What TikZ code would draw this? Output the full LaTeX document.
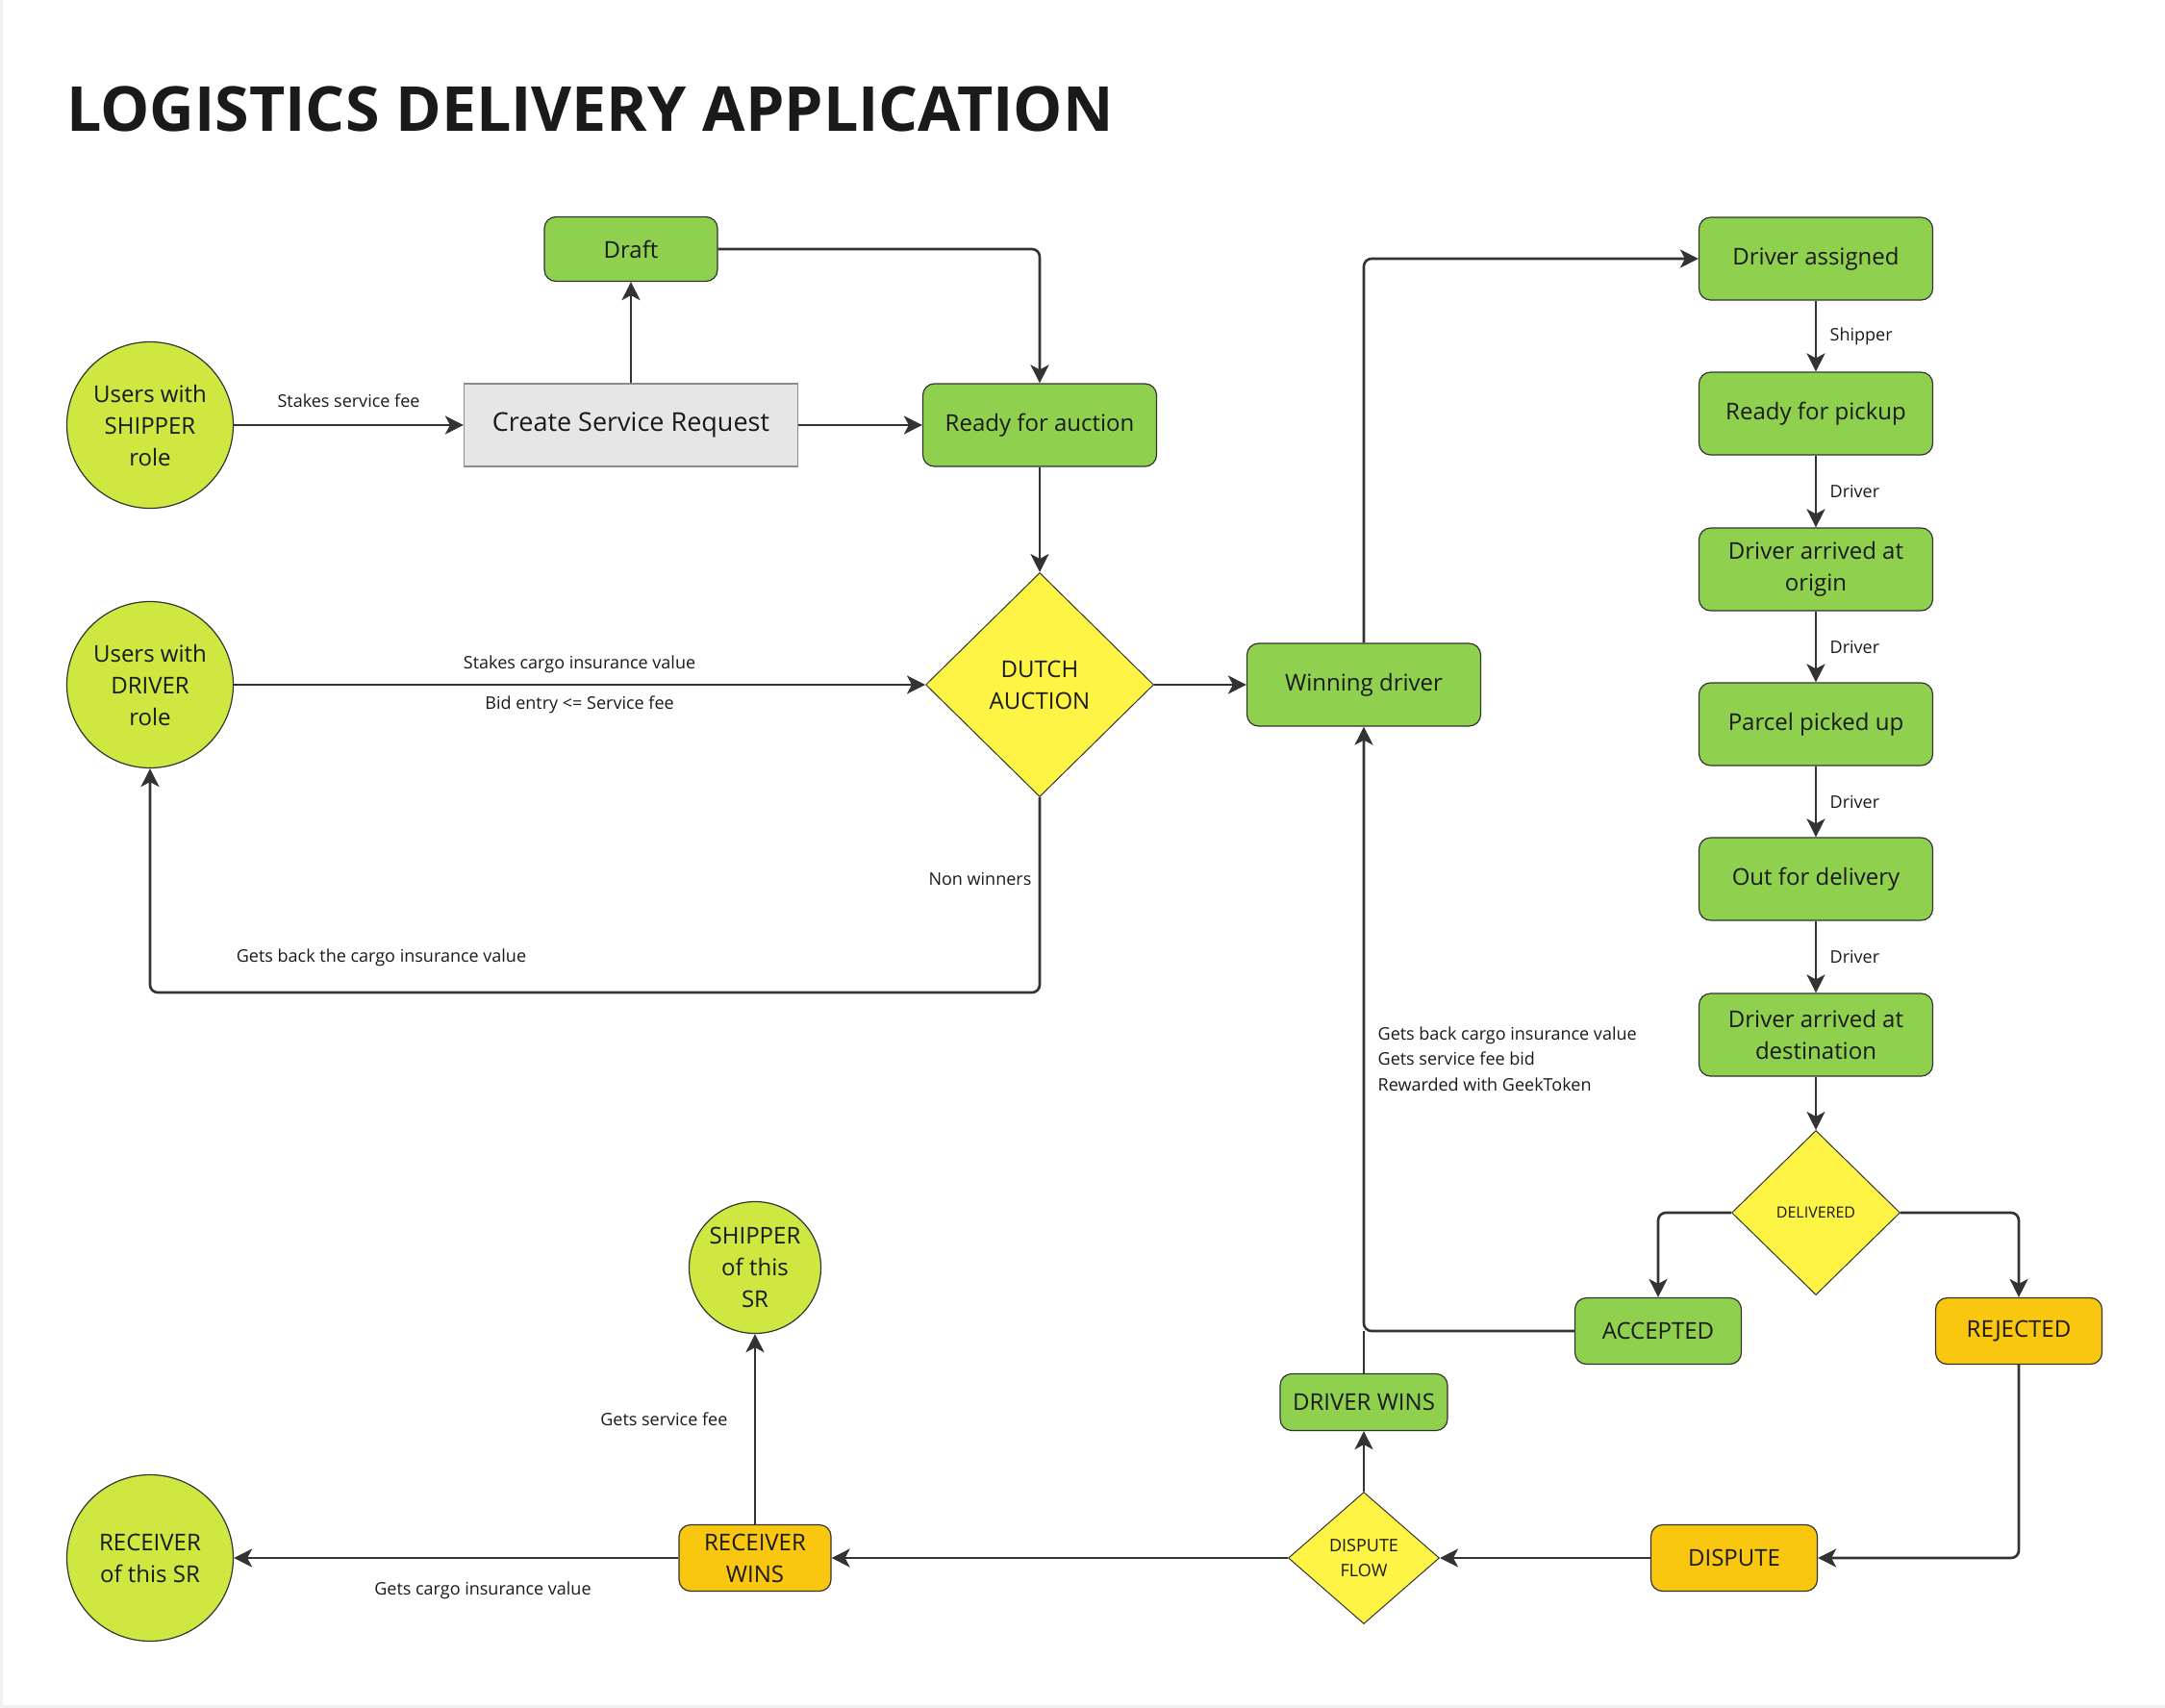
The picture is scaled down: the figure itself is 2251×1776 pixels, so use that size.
\documentclass[tikz,border=0pt]{standalone}
\usepackage{fontspec}
\setmainfont{Open Sans}
\usetikzlibrary{positioning,shapes.geometric,arrows.meta}
\definecolor{stategreen}{HTML}{8FD14F}
\definecolor{rolelime}{HTML}{CEE741}
\definecolor{choiceyellow}{HTML}{FEF445}
\definecolor{warnorange}{HTML}{FAC710}
\definecolor{requestgray}{HTML}{E6E6E6}
\definecolor{linedark}{HTML}{333333}
\definecolor{textdark}{HTML}{1A1A1A}
\definecolor{edgegray}{HTML}{F0F0F0}
\begin{document}
\begin{tikzpicture}
  [
    x = 1pt, y = -1pt,
    every node/.style = {font = \fontsize{24}{33}\selectfont, text = textdark, align = center},
    state/.style = {draw = linedark, fill = stategreen, rectangle, rounded corners = 12pt, line width = 1.2pt, minimum width = 243pt, minimum height = 86pt},
    role/.style = {draw = linedark, fill = rolelime, circle, line width = 1.2pt, inner sep = 0pt},
    choice/.style = {draw = linedark, fill = choiceyellow, diamond, line width = 1pt, inner sep = 0pt},
    note/.style = {font = \fontsize{18}{26.5}\selectfont},
    flow/.style = {-{Stealth[length = 19pt, width = 19pt, inset = 5pt]}, draw = linedark, line width = 2.6pt, rounded corners = 8pt}
  ]
    \fill [edgegray] (0,0) rectangle (2251,1776);
    \fill [white] (3,0) rectangle (2251,1773);
    \useasboundingbox (0,0) rectangle (2251,1776);
    \node (title) [anchor = west, inner sep = 0pt, font = \fontsize{64.5}{70}\bfseries] at (69,113) {LOGISTICS DELIVERY APPLICATION};
    % shipper side
    \node (shipper) [role, minimum size = 173pt] at (156,442) {Users with\\SHIPPER\\role};
    \node (request) [draw = black!45, fill = requestgray, line width = 1.2pt, minimum width = 347pt, minimum height = 86pt, font = \fontsize{27}{33}\selectfont] at (656,442) {Create Service Request};
    \node (draft) [state, minimum width = 180pt, minimum height = 67pt] at (656,259) {Draft};
    \node (ready) [state] at (1081,442) {Ready for auction};
    % auction
    \node (driver) [role, minimum size = 173pt] at (156,712) {Users with\\DRIVER\\role};
    \node (dutch) [choice, minimum width = 237pt, minimum height = 233pt] at (1081,712) {DUTCH\\AUCTION};
    \node (winning) [state] at (1418,712) {Winning driver};
    % delivery steps
    \node (assigned) [state] at (1888,269) {Driver assigned};
    \node (pickup) [state] at (1888,430) {Ready for pickup};
    \node (origin) [state] at (1888,592) {Driver arrived at\\origin};
    \node (picked) [state] at (1888,753) {Parcel picked up};
    \node (outdel) [state] at (1888,914) {Out for delivery};
    \node (dest) [state] at (1888,1076) {Driver arrived at\\destination};
    \node (delivered) [choice, minimum width = 175pt, minimum height = 171pt, font = \fontsize{16}{20}\selectfont] at (1888,1261) {DELIVERED};
    \node (accepted) [state, minimum width = 173pt, minimum height = 69pt] at (1724,1384) {ACCEPTED};
    \node (rejected) [state, fill = warnorange, minimum width = 173pt, minimum height = 69pt] at (2099,1384) {REJECTED};
    % dispute
    \node (dispute) [state, fill = warnorange, minimum width = 173pt, minimum height = 69pt] at (1803,1620) {DISPUTE};
    \node (dflow) [choice, minimum width = 157pt, minimum height = 137pt, font = \fontsize{18}{26}\selectfont] at (1418,1620) {DISPUTE\\FLOW};
    \node (drwins) [state, minimum width = 174pt, minimum height = 59pt] at (1418,1458) {DRIVER WINS};
    \node (rcvwins) [state, fill = warnorange, minimum width = 158pt, minimum height = 69pt] at (785,1620) {RECEIVER\\WINS};
    \node (shipsr) [role, minimum size = 137pt] at (785,1318) {SHIPPER\\of this\\SR};
    \node (receiver) [role, minimum size = 173pt] at (156,1620) {RECEIVER\\of this SR};
    % connectors
    \draw [flow] (shipper.east) -- (request.west) node [note, midway, above = 14pt] {Stakes service fee};
    \draw [flow] (request.east) -- (ready.west);
    \draw [flow] (request.north) -- (draft.south);
    \draw [flow] (draft.east) -| (ready.north);
    \draw [flow] (ready.south) -- (dutch.north);
    \draw [flow] (driver.east) -- (dutch.west)
      node [note, midway, above = 8pt] {Stakes cargo insurance value}
      node [note, midway, below = 7pt] {Bid entry <= Service fee};
    \coordinate (loop) at (156,1032);
    \draw [flow] (dutch.south) |- (loop)
      node [note, pos = 0.21, left = 4pt] {Non winners}
      node [note, pos = 0.87, above = 23pt] {Gets back the cargo insurance value}
      -- (driver.south);
    \draw [flow] (dutch.east) -- (winning.west);
    \draw [flow] (winning.north) |- (assigned.west);
    \draw [flow] (assigned.south) -- (pickup.north) node [note, midway, right = 10pt] {Shipper};
    \draw [flow] (pickup.south) -- (origin.north) node [note, midway, right = 10pt] {Driver};
    \draw [flow] (origin.south) -- (picked.north) node [note, midway, right = 10pt] {Driver};
    \draw [flow] (picked.south) -- (outdel.north) node [note, midway, right = 10pt] {Driver};
    \draw [flow] (outdel.south) -- (dest.north) node [note, midway, right = 10pt] {Driver};
    \draw [flow] (dest.south) -- (delivered.north);
    \draw [flow] (delivered.west) -| (accepted.north);
    \draw [flow] (delivered.east) -| (rejected.north);
    \draw [flow] (accepted.west) -| (winning.south)
      node [note, pos = 0.725, right = 10pt, align = left] {Gets back cargo insurance value\\Gets service fee bid\\Rewarded with GeekToken};
    \draw [flow] (rejected.south) |- (dispute.east);
    \draw [flow] (dispute.west) -- (dflow.east);
    \draw [flow] (dflow.north) -- (drwins.south);
    \draw [draw = linedark, line width = 2.6pt] (drwins.north) -- (drwins.north |- accepted.west);
    \draw [flow] (dflow.west) -- (rcvwins.east);
    \draw [flow] (rcvwins.west) -- (receiver.east) node [note, pos = 0.44, below = 20pt] {Gets cargo insurance value};
    \draw [flow] (rcvwins.north) -- (shipsr.south) node [note, pos = 0.55, left = 24pt] {Gets service fee};
  \end{tikzpicture}
\end{document}
